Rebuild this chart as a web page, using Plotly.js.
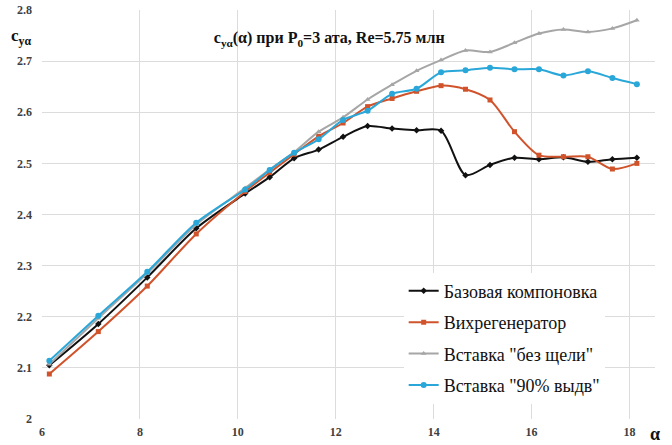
<!DOCTYPE html>
<html>
<head>
<meta charset="utf-8">
<script src="https://cdn.plot.ly/plotly-3.0.1.min.js"></script>
<style>html,body{margin:0;padding:0;background:#fff;}#chart{width:672px;height:445px;}</style>
</head>
<body>
<div id="chart"></div>
<script>
const alpha = [6.15,7.15,8.15,9.15,10.15,10.65,11.15,11.65,12.15,12.65,13.15,13.65,14.15,14.65,15.15,15.65,16.15,16.65,17.15,17.65,18.15];
const baseSeries = [2.105,2.186,2.277,2.373,2.441,2.473,2.510,2.527,2.552,2.573,2.568,2.565,2.564,2.477,2.497,2.511,2.508,2.512,2.503,2.508,2.511];
const vortexSeries = [2.088,2.171,2.260,2.362,2.445,2.482,2.518,2.553,2.579,2.611,2.627,2.641,2.652,2.645,2.624,2.562,2.516,2.513,2.513,2.489,2.500];
const noSlotSeries = [2.107,2.197,2.285,2.380,2.452,2.488,2.522,2.562,2.590,2.625,2.654,2.681,2.702,2.721,2.718,2.736,2.754,2.762,2.757,2.764,2.780];
const ext90Series = [2.114,2.202,2.288,2.384,2.449,2.487,2.521,2.547,2.585,2.603,2.636,2.646,2.678,2.682,2.687,2.684,2.684,2.672,2.680,2.667,2.655];
const seriesNames = ['Базовая компоновка','Вихрегенератор','Вставка "без щели"','Вставка "90% выдв"'];
const xTicks = [6,8,10,12,14,16,18];
const yTicks = [2,2.1,2.2,2.3,2.4,2.5,2.6,2.7,2.8];

const serif = '"Liberation Serif", "DejaVu Serif", serif';
function tr(y, name, color, symbol, size, g) {
  return {x: alpha, y: y, name: name, type: 'scatter', mode: 'lines+markers',
    legendgroup: g,
    line: {color: color, width: 2, shape: 'spline', smoothing: 0.8},
    marker: {color: color, symbol: symbol, size: size}};
}
const data = [
  tr(baseSeries, seriesNames[0], '#111111', 'diamond', 5, 'a'),
  tr(vortexSeries, seriesNames[1], '#d0532b', 'square', 5, 'b'),
  tr(noSlotSeries, seriesNames[2], '#a6a6a6', 'triangle-up', 5, 'c'),
  tr(ext90Series, seriesNames[3], '#2aa7d9', 'circle', 6, 'd')
];
const layout = {
  width: 672, height: 445,
  margin: {l: 42, r: 17, t: 10, b: 26},
  paper_bgcolor: '#fff', plot_bgcolor: '#fff',
  showlegend: true,
  title: {text: 'c<sub>yα</sub>(α) при P<sub>0</sub>=3 ата, Re=5.75 млн',
    font: {family: serif, size: 16, color: '#111', weight: 700},
    x: 0.49, xanchor: 'center', y: 0.915, yanchor: 'middle'},
  xaxis: {range: [6, 18.52], tickvals: xTicks, ticktext: xTicks.map(String),
    showgrid: true, gridcolor: '#dcdcdc', gridwidth: 1, zeroline: false,
    showline: false, ticks: '', ticklabelstandoff: 4,
    tickfont: {family: serif, size: 12, color: '#404040', weight: 700}},
  yaxis: {range: [2, 2.8], tickvals: yTicks, ticktext: yTicks.map(String),
    showgrid: true, gridcolor: '#dcdcdc', gridwidth: 1, zeroline: false,
    showline: false, ticks: '', ticklabelstandoff: 9,
    tickfont: {family: serif, size: 12, color: '#404040', weight: 700}},
  legend: {x: 0.59, xanchor: 'left', y: 0.358, yanchor: 'top',
    bgcolor: '#ffffff', borderwidth: 0, tracegroupgap: 5,
    font: {family: serif, size: 18, color: '#111'}},
  annotations: [
    {text: 'c<sub>yα</sub>', xref: 'paper', yref: 'paper', x: -0.035, y: 0.935,
     xanchor: 'center', yanchor: 'middle', showarrow: false,
     font: {family: serif, size: 17, color: '#111', weight: 700}},
    {text: 'α', xref: 'paper', yref: 'paper', x: 1.0, y: -0.036,
     xanchor: 'center', yanchor: 'middle', showarrow: false,
     font: {family: serif, size: 18, color: '#111', weight: 700}}
  ]
};
Plotly.newPlot('chart', data, layout, {displayModeBar: false, staticPlot: true});
</script>
</body>
</html>
